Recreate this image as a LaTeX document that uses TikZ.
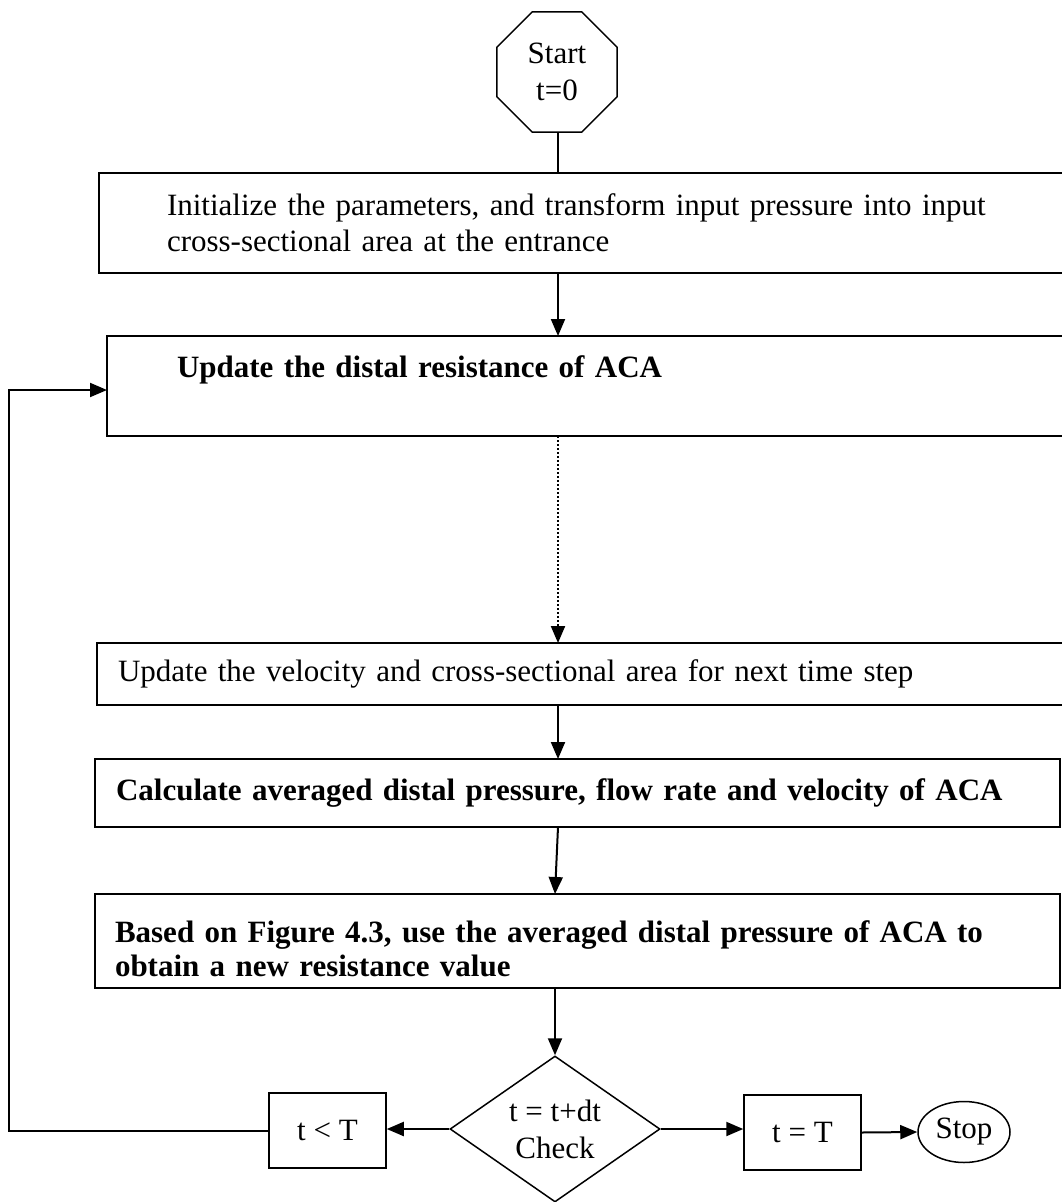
\documentclass[tikz,border=0pt]{standalone}
\usepackage{fontspec}
\setmainfont{Liberation Serif}
\usetikzlibrary{shapes.geometric,arrows.meta}
\begin{document}
\begin{tikzpicture}[x=1pt,y=-1pt,
  every node/.style={font=\fontsize{31}{36}\selectfont},
  bigbox/.style={draw, line width=2pt, anchor=north west, align=left, inner ysep=0pt, outer sep=0pt},
  smallbox/.style={draw, line width=1.5pt, inner sep=0pt, minimum width=117pt, minimum height=75pt},
  conn/.style={line width=2pt},
  arr/.style={conn, -{Triangle[length=17pt,width=14pt]}},
  dotline/.style={dash pattern=on 2pt off 2pt}]
\useasboundingbox[fill=white] (0,0) rectangle (1061,1202);
\coordinate (ax) at (558,0);
\coordinate (ax2) at (555,0);
\coordinate (loopT) at (9,390);

\node[regular polygon, regular polygon sides=8, minimum size=130pt, draw, line width=1.5pt,
  inner sep=0pt, align=center, font={\fontsize{31}{37}\selectfont}] (oct) at (557,72) {Start\\t=0};

\node[bigbox, minimum width=976pt, minimum height=100pt, inner xsep=68pt, text width=900pt]
  (box1) at (99,173) {Initialize the parameters, and transform input pressure into input\\cross-sectional area at the entrance};

\node[bigbox, minimum width=968pt, minimum height=100pt, inner xsep=70pt, text width=828pt,
  text depth=38pt, font={\fontsize{31}{36}\selectfont\bfseries}]
  (box2) at (107,336) {Update the distal resistance of ACA};

\node[bigbox, minimum width=978pt, minimum height=62pt, inner xsep=21pt, text width=936pt]
  (box3) at (97,643) {Update the velocity and cross-sectional area for next time step};

\node[bigbox, minimum width=965pt, minimum height=68pt, inner xsep=21pt, text width=923pt,
  font={\fontsize{31}{36}\selectfont\bfseries}]
  (box4) at (95,759) {Calculate averaged distal pressure, flow rate and velocity of ACA};

\node[bigbox, minimum width=965pt, minimum height=94pt, inner xsep=20pt, text width=925pt,
  text depth=18pt, font={\fontsize{31}{34}\selectfont\bfseries}]
  (box5) at (95,894) {Based on Figure 4.3, use the averaged distal pressure of ACA to\\obtain a new resistance value};

\node[diamond, draw, line width=1.5pt, aspect=1.44, inner sep=0pt, minimum width=210pt,
  minimum height=146pt, align=center, font={\fontsize{31}{37}\selectfont}] (dia) at (555,1129) {t = t+dt\\Check};

\node[smallbox] (tlt) at (327.5,1130.5) {t < T};
\node[smallbox] (teq) at (802.5,1132.5) {t = T};
\node[ellipse, draw, line width=1.5pt, inner sep=0pt, minimum width=92pt, minimum height=61pt] (stop) at (964,1132) {Stop};

\draw[conn] (oct.south -| ax) -- (box1.north -| ax);
\draw[arr] (box1.south -| ax) -- (box2.north -| ax);
\draw[arr, dotline] (box2.south -| ax) -- (box3.north -| ax);
\draw[arr] (box3.south -| ax) -- (box4.north -| ax);
\draw[arr] (box4.south -| ax) -- (box5.north -| ax2);
\draw[arr] (box5.south -| dia.north) -- (dia.north);
\draw[arr] (dia.west) -- (dia.west -| tlt.east);
\draw[arr] (tlt.west) -| (loopT) -- (loopT -| box2.west);
\draw[arr] (dia.east) -- (dia.east -| teq.west);
\draw[arr] (teq.east) -- (stop.west);
\end{tikzpicture}
\end{document}
